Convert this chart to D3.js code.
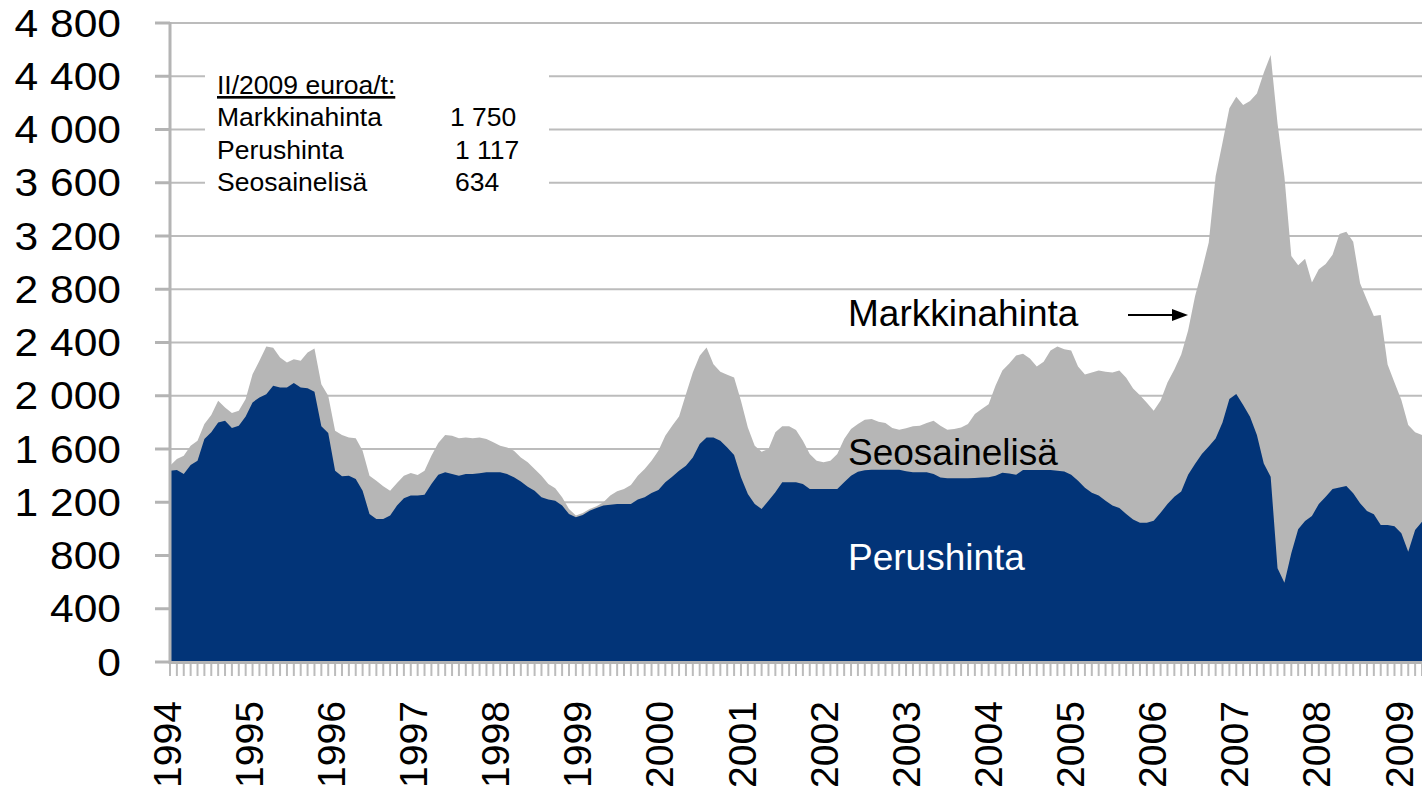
<!DOCTYPE html>
<html>
<head>
<meta charset="utf-8">
<script src="https://cdn.jsdelivr.net/npm/d3@7"></script>
<style>
	html, body { margin: 0; padding: 0; background: #fff; }
	svg { display: block; font-family: "Liberation Sans", Arial, sans-serif; }
</style>
</head>
<body>
<div id="chart"></div>
<script>
// Year labels on the category axis (one label every 12 months)
const years = [1994, 1995, 1996, 1997, 1998, 1999, 2000, 2001, 2002, 2003, 2004, 2005, 2006, 2007, 2008, 2009];

// Monthly values, euroa/t, from 1/1994 onwards
const markkinahinta = [
	1475, 1525, 1550, 1625, 1662, 1787, 1855, 1962, 1912, 1870, 1887, 1975,
	2162, 2262, 2370, 2360, 2287, 2250, 2275, 2262, 2325, 2355, 2087, 2000,
	1737, 1705, 1687, 1680, 1587, 1400, 1362, 1320, 1287, 1345, 1400, 1420,
	1405, 1437, 1550, 1645, 1705, 1700, 1680, 1687, 1680, 1687, 1675, 1650,
	1625, 1612, 1587, 1537, 1500, 1450, 1400, 1337, 1305, 1237, 1150, 1100,
	1120, 1150, 1170, 1200, 1250, 1282, 1300, 1330, 1400, 1450, 1512, 1587,
	1700, 1775, 1845, 2012, 2175, 2300, 2362, 2237, 2180, 2157, 2137, 1962,
	1762, 1625, 1580, 1600, 1725, 1770, 1770, 1742, 1662, 1562, 1512, 1500,
	1512, 1562, 1675, 1750, 1787, 1820, 1825, 1805, 1795, 1757, 1745, 1755,
	1770, 1775, 1795, 1812, 1775, 1745, 1750, 1762, 1787, 1862, 1900, 1937,
	2075, 2189, 2243, 2303, 2315, 2279, 2219, 2255, 2339, 2370, 2349, 2339,
	2219, 2159, 2174, 2189, 2180, 2174, 2189, 2135, 2054, 2003, 1948, 1888,
	1964, 2099, 2198, 2309, 2490, 2746, 2941, 3152, 3648, 3900, 4159, 4246,
	4184, 4214, 4271, 4427, 4559, 4046, 3645, 3050, 2980, 3030, 2850, 2950,
	2990, 3060, 3215, 3232, 3157, 2845, 2719, 2599, 2606, 2235, 2100, 1968,
	1780, 1725, 1705
];

const perushinta = [
	1437, 1442, 1412, 1480, 1512, 1675, 1725, 1800, 1812, 1757, 1775, 1845,
	1950, 1987, 2012, 2075, 2062, 2062, 2095, 2062, 2057, 2030, 1770, 1720,
	1437, 1395, 1400, 1375, 1287, 1112, 1075, 1075, 1100, 1175, 1230, 1250,
	1250, 1257, 1337, 1407, 1425, 1412, 1400, 1412, 1412, 1417, 1425, 1425,
	1425, 1412, 1387, 1355, 1317, 1287, 1237, 1220, 1212, 1175, 1112, 1087,
	1105, 1137, 1157, 1175, 1182, 1187, 1187, 1187, 1220, 1237, 1270, 1292,
	1350, 1392, 1437, 1475, 1537, 1637, 1687, 1687, 1662, 1612, 1555, 1387,
	1262, 1187, 1150, 1212, 1275, 1350, 1350, 1350, 1337, 1300, 1300, 1300,
	1300, 1300, 1350, 1400, 1430, 1440, 1445, 1445, 1445, 1445, 1445, 1432,
	1425, 1425, 1425, 1412, 1385, 1380, 1380, 1380, 1380, 1382, 1385, 1387,
	1400, 1422, 1416, 1407, 1443, 1443, 1443, 1443, 1443, 1437, 1431, 1407,
	1362, 1308, 1272, 1251, 1212, 1175, 1157, 1112, 1070, 1046, 1046, 1061,
	1121, 1187, 1242, 1281, 1407, 1488, 1563, 1618, 1678, 1800, 1975, 2013,
	1931, 1843, 1705, 1492, 1392, 704, 596, 816, 997, 1059, 1097, 1187,
	1242, 1300, 1310, 1322, 1267, 1192, 1135, 1110, 1029, 1029, 1020, 967,
	829, 992, 1054
];

// Y axis ticks
const yTicks = d3.range(0, 4801, 400);

// Text box in the upper left corner
const boxTitle = "II/2009 euroa/t:";
const boxNames = ["Markkinahinta", "Perushinta", "Seosainelisä"];
const boxValues = ["1 750", "1 117", "634"];

// Area labels
const areaLabels = ["Markkinahinta", "Seosainelisä", "Perushinta"];

// SVG constants
const width = 1422;
const height = 790;
const margin = { left: 170, right: 1422, top: 23, bottom: 662 };
const axisFont = 38;
const yStretch = 1.12; // value labels in the original are drawn a bit wide
const xStretch = 1.03; // keep the rotated years inside the picture

const fi = d3.formatLocale({ decimal: ",", thousands: " ", grouping: [3], currency: ["", ""] });
const fmt = fi.format(",");

const x = d3.scaleLinear()
	.domain([0, markkinahinta.length - 1])
	.range([margin.left, margin.right]);

const y = d3.scaleLinear()
	.domain([0, 4800])
	.range([margin.bottom, margin.top]);

// year label centres
const xYear = d3.scaleLinear()
	.domain([years[0], years[years.length - 1]])
	.range([167, 1399]);

const svg = d3.select("#chart").append("svg")
	.attr("width", width)
	.attr("height", height)
	.attr("viewBox", [0, 0, width, height]);

// Gridlines
svg.append("g")
	.selectAll("line")
	.data(yTicks.filter(d => d > 0))
	.join("line")
	.attr("x1", margin.left)
	.attr("x2", margin.right)
	.attr("y1", d => y(d))
	.attr("y2", d => y(d))
	.attr("stroke", "#bcbcbc")
	.attr("stroke-width", 2);

// Areas: grey market price below, blue base price on top
const area = d3.area()
	.x((d, i) => x(i))
	.y0(y(0))
	.y1(d => y(d));

svg.append("path")
	.datum(markkinahinta)
	.attr("fill", "#b6b6b6")
	.attr("d", area);

svg.append("path")
	.datum(perushinta)
	.attr("fill", "#023478")
	.attr("d", area);

// Y axis
const yAxis = svg.append("g");
yAxis.append("line")
	.attr("x1", margin.left).attr("x2", margin.left)
	.attr("y1", y(4800) - 1).attr("y2", y(0) + 2)
	.attr("stroke", "#b4b4b4")
	.attr("stroke-width", 3);

yAxis.selectAll(".ytick")
	.data(yTicks)
	.join("line")
	.attr("class", "ytick")
	.attr("x1", margin.left - 15).attr("x2", margin.left)
	.attr("y1", d => y(d)).attr("y2", d => y(d))
	.attr("stroke", "#b4b4b4")
	.attr("stroke-width", 3);

yAxis.selectAll("text")
	.data(yTicks)
	.join("text")
	.attr("transform", d => `translate(121, ${y(d)}) scale(${yStretch}, 1)`)
	.attr("dy", "0.36em")
	.attr("text-anchor", "end")
	.style("font-size", axisFont + "px")
	.text(d => fmt(d));

// X axis
const xAxis = svg.append("g");
xAxis.append("line")
	.attr("x1", margin.left).attr("x2", margin.right)
	.attr("y1", y(0) + 0.5).attr("y2", y(0) + 0.5)
	.attr("stroke", "#b4b4b4")
	.attr("stroke-width", 3);

xAxis.selectAll(".xtick")
	.data(d3.range(markkinahinta.length))
	.join("line")
	.attr("class", "xtick")
	.attr("x1", d => x(d)).attr("x2", d => x(d))
	.attr("y1", y(0) + 2).attr("y2", y(0) + 14)
	.attr("stroke", "#bcbcbc")
	.attr("stroke-width", 2);

// rotated year labels; baseline sits half a cap height right of the glyph centre
xAxis.selectAll("text")
	.data(years)
	.join("text")
	.attr("transform", d => `translate(${xYear(d) + 13.6}, 701) rotate(-90) scale(${xStretch}, 1)`)
	.attr("text-anchor", "end")
	.style("font-size", axisFont + "px")
	.text(d => d);

// Text box
const box = svg.append("g");
box.append("rect")
	.attr("x", 205).attr("y", 64)
	.attr("width", 344).attr("height", 136)
	.attr("fill", "#fff");

box.append("text")
	.attr("x", 217).attr("y", 94)
	.style("font-size", "26.5px")
	.style("text-decoration", "underline")
	.text(boxTitle);

box.selectAll(".bname")
	.data(boxNames)
	.join("text")
	.attr("class", "bname")
	.attr("x", 217)
	.attr("y", (d, i) => 126 + i * 32.5)
	.style("font-size", "26.5px")
	.text(d => d);

box.selectAll(".bval")
	.data(boxValues)
	.join("text")
	.attr("class", "bval")
	.attr("x", (d, i) => [450, 455, 455][i])
	.attr("y", (d, i) => 126 + i * 32.5)
	.style("font-size", "26.5px")
	.text(d => d);

// Area labels
svg.selectAll(".alabel")
	.data(areaLabels)
	.join("text")
	.attr("class", "alabel")
	.attr("x", 848)
	.attr("y", (d, i) => [326, 465, 570][i])
	.attr("fill", (d, i) => i === 2 ? "#fff" : "#000")
	.style("font-size", "37px")
	.text(d => d);

// Arrow pointing at the market price area
svg.append("line")
	.attr("x1", 1128).attr("x2", 1174)
	.attr("y1", 315).attr("y2", 315)
	.attr("stroke", "#000")
	.attr("stroke-width", 2);

svg.append("path")
	.attr("d", "M1172,309 L1188,315 L1172,321 Z")
	.attr("fill", "#000");
</script>
</body>
</html>
